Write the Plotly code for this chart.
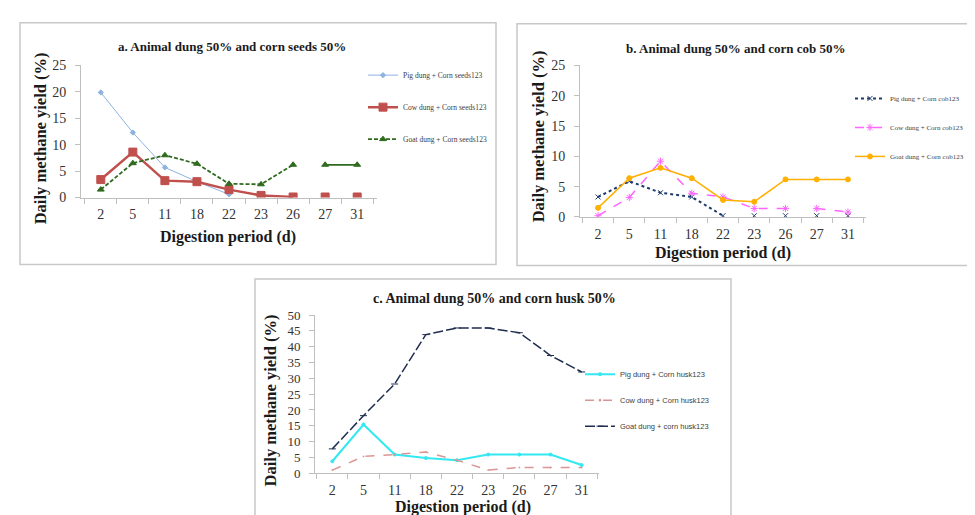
import plotly.graph_objects as go

days = ["2", "5", "11", "18", "22", "23", "26", "27", "31"]

# Panel a: Animal dung 50% and corn seeds 50%
a_pig = [19.9, 12.3, 5.7, 3.0, 0.6, None, None, None, None]
a_cow = [3.4, 8.6, 3.2, 3.0, 1.5, 0.4, 0.1, 0.1, 0.1]
a_goat = [1.5, 6.5, 8.0, 6.4, 2.6, 2.5, 6.2, 6.2, 6.2]

# Panel b: Animal dung 50% and corn cob 50%
b_pig = [3.3, 5.9, 4.0, 3.3, 0.2, 0.2, 0.2, 0.2, 0.2]
b_cow = [0.2, 3.2, 9.2, 3.9, 3.3, 1.4, 1.4, 1.4, 0.8]
b_goat = [1.5, 6.4, 8.1, 6.4, 2.8, 2.5, 6.2, 6.2, 6.2]

# Panel c: Animal dung 50% and corn husk 50%
c_pig = [3.8, 15.4, 5.9, 4.8, 4.1, 5.9, 5.9, 5.9, 2.6]
c_cow = [1.0, 5.3, 5.9, 6.7, 4.1, 1.0, 1.8, 1.8, 1.8]
c_goat = [7.7, 18.2, 28.2, 43.8, 45.9, 45.9, 44.4, 37.2, 32.0]

names_a = ["Pig dung + Corn seeds123", "Cow dung + Corn seeds123", "Goat dung + Corn seeds123"]
names_b = ["Pig dung + Corn cob123", "Cow dung + Corn cob123", "Goat dung + Corn cob123"]
names_c = ["Pig dung + Corn husk123", "Cow dung + Corn husk123", "Goat dung + corn husk123"]

W, H = 975, 515
def px(v):
    return v / W
def py(v):
    return 1 - v / H

SERIF = "Liberation Serif, Times New Roman, serif"
fig = go.Figure()

def add(x, y, name, color, width, dash, symbol, size, xa, ya, legend, show=True, mode="lines+markers", group=None):
    fig.add_trace(go.Scatter(
        x=x, y=y, name=name, mode=mode, xaxis=xa, yaxis=ya, legend=legend,
        showlegend=show, legendgroup=group or name, connectgaps=False,
        line=dict(color=color, width=width, dash=dash),
        marker=dict(symbol=symbol, size=size, color=color, line=dict(color=color, width=1)),
    ))

# ---- panel a
add(days, a_pig, names_a[0], "#8DB3E2", 1, "solid", "diamond", 4, "x", "y", "legend")
add(days[:7], a_cow[:7], names_a[1], "#C0504D", 2.5, "solid", "square", 8, "x", "y", "legend")
add(days[7:], a_cow[7:], names_a[1], "#C0504D", 2.5, "solid", "square", 8, "x", "y", "legend", show=False, mode="markers")
add(days[:7], a_goat[:7], names_a[2], "#2F6B1E", 1.8, "4px,2px", "triangle-up", 6, "x", "y", "legend")
add(days[7:], a_goat[7:], names_a[2], "#2F6B1E", 1.8, "solid", "triangle-up", 6, "x", "y", "legend", show=False)

# ---- panel b
add(days[:5], b_pig[:5], names_b[0], "#1F3A6E", 2, "dot", "x-thin-open", 5, "x2", "y2", "legend2")
add(days[5:], b_pig[5:], names_b[0], "#1F3A6E", 2, "dot", "x-thin-open", 5, "x2", "y2", "legend2", show=False, mode="markers")
add(days[:7], b_cow[:7], names_b[1], "#FF66FF", 1.5, "dash", "asterisk-open", 6, "x2", "y2", "legend2")
add(days[7:], b_cow[7:], names_b[1], "#FF66FF", 1.5, "dash", "asterisk-open", 6, "x2", "y2", "legend2", show=False)
add(days, b_goat, names_b[2], "#FFB000", 1.5, "solid", "circle", 5, "x2", "y2", "legend2")

# ---- panel c
add(days, c_pig, names_c[0], "#33E8F0", 2, "solid", "circle", 3, "x3", "y3", "legend3")
add(days, c_cow, names_c[1], "#D99694", 1.5, "dash", "circle", 1, "x3", "y3", "legend3")
add(days, c_goat, names_c[2], "#1F2D4F", 1.5, "10px,3px", "line-ew-open", 5, "x3", "y3", "legend3")

tickfont = dict(family=SERIF, size=14, color="#333333")
def xax(domain, anchor):
    return dict(domain=domain, anchor=anchor, type="category", categoryorder="array",
                categoryarray=days, tickson="boundaries", ticks="outside", ticklen=5,
                tickcolor="#BFBFBF", showline=True, linecolor="#BFBFBF", linewidth=1,
                showgrid=False, zeroline=False, tickfont=tickfont, ticklabelstandoff=4,
                fixedrange=True)
def yax(domain, anchor, rng, dtick, fsize=14):
    return dict(domain=domain, anchor=anchor, range=rng, dtick=dtick, ticks="outside",
                ticklen=5, tickcolor="#BFBFBF", showline=True, linecolor="#BFBFBF",
                linewidth=1, showgrid=False, zeroline=False,
                tickfont=dict(family=SERIF, size=fsize, color="#333333"), ticklabelstandoff=6)

legfont = dict(family=SERIF, size=7.5, color="#404040")
fig.update_layout(
    width=W, height=H, margin=dict(l=0, r=0, t=0, b=0),
    paper_bgcolor="white", plot_bgcolor="white",
    xaxis=xax([px(73), px(369)], "y"),
    yaxis=yax([py(188), py(52)], "x", [0, 25], 5),
    xaxis2=xax([px(572), px(858)], "y2"),
    yaxis2=yax([py(208), py(52)], "x2", [0, 25], 5),
    xaxis3=xax([px(307), px(591)], "y3"),
    yaxis3=yax([py(472), py(309)], "x3", [0, 50], 5, 13),
    legend=dict(x=px(355), y=py(47), xanchor="left", yanchor="top", font=legfont,
                tracegroupgap=13, bgcolor="rgba(0,0,0,0)", itemwidth=30),
    legend2=dict(x=px(842), y=py(71), xanchor="left", yanchor="top",
                 font=dict(family=SERIF, size=7, color="#404040"),
                 tracegroupgap=10, bgcolor="rgba(0,0,0,0)", itemwidth=30),
    legend3=dict(x=px(572), y=py(355), xanchor="left", yanchor="top",
                 font=dict(family="Liberation Sans, Arial, sans-serif", size=7.5, color="#404040"),
                 tracegroupgap=7, bgcolor="rgba(0,0,0,0)", itemwidth=30),
    showlegend=True,
)

border = "#C8C8C8"
for (x0, y0, x1, y1) in [(12, 8, 488, 257), (509, 9, 990, 258), (247, 272, 723, 530)]:
    fig.add_shape(type="rect", xref="paper", yref="paper", x0=px(x0), x1=px(x1),
                  y0=py(y1), y1=py(y0), line=dict(color=border, width=1.5), layer="below")

def ann(text, x, y, size, angle=0):
    fig.add_annotation(text="<b>" + text + "</b>", x=px(x), y=py(y), xref="paper", yref="paper",
                       showarrow=False, textangle=angle, xanchor="center", yanchor="middle",
                       font=dict(family=SERIF, size=size, color="#1a1a1a"))

ann("a. Animal dung 50% and corn seeds 50%", 224, 32, 13)
ann("b. Animal dung 50% and corn cob 50%", 728, 35, 13)
ann("c. Animal dung 50% and corn husk 50%", 486, 292, 14)
ann("Daily methane yield (%)", 32, 127, 16.5, -90)
ann("Daily methane yield (%)", 530, 125, 16.5, -90)
ann("Daily methane yield (%)", 262, 397, 16.5, -90)
ann("Digestion period (d)", 220, 229, 16)
ann("Digestion period (d)", 715, 245, 16)
ann("Digestion period (d)", 455, 507, 16)

fig.write_html("out.html")
